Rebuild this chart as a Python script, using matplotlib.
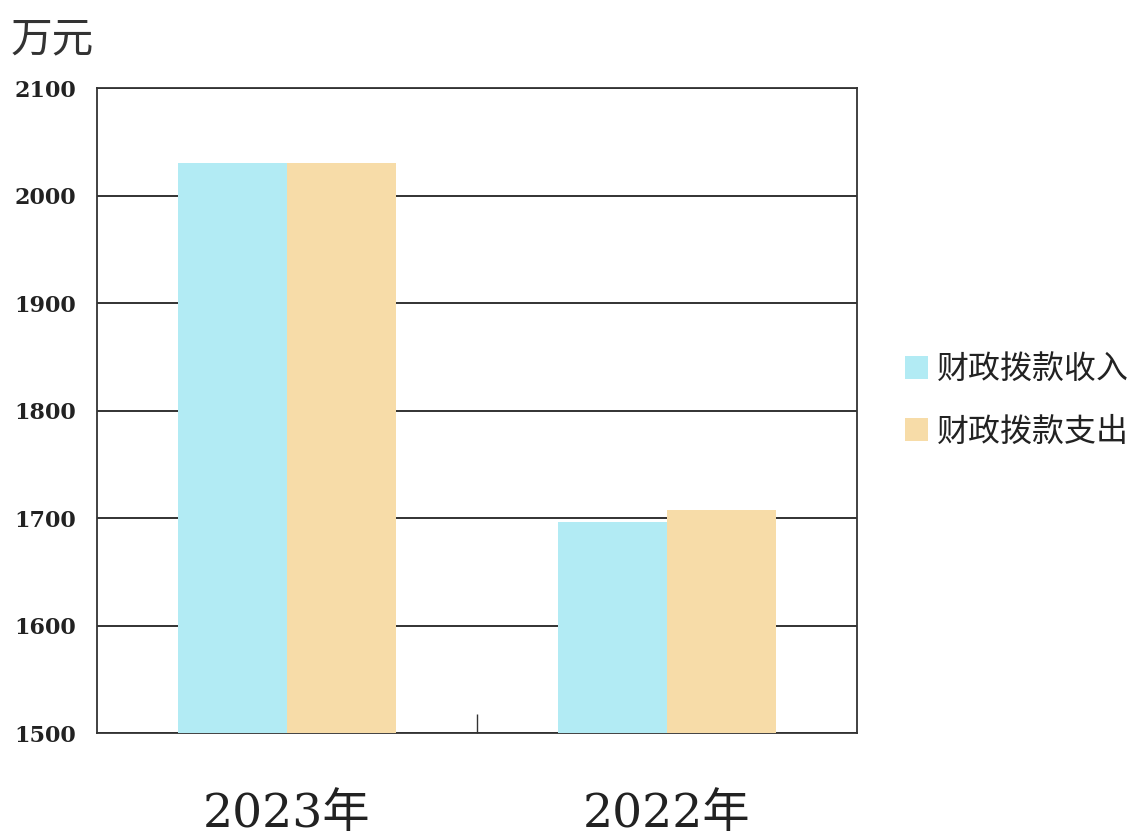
import numpy as np
import matplotlib.pyplot as plt

# data
categories = ['2023年', '2022年']
income = [2030, 1696]
expense = [2030, 1707]
series_names = ['财政拨款收入', '财政拨款支出']
yticks = [1500, 1600, 1700, 1800, 1900, 2000, 2100]

cjk = ['Noto Sans CJK SC', 'DejaVu Sans']
serif = ['DejaVu Serif', 'Noto Sans CJK SC']

fig = plt.figure(figsize=(11.35, 8.36), dpi=100)
ax = fig.add_axes([0.0855, 0.1232, 0.6695, 0.7715])

x = np.arange(len(categories))
w = 0.288
ax.bar(x - w / 2, income, w, color='#b2ebf4', label=series_names[0], zorder=3)
ax.bar(x + w / 2, expense, w, color='#f7dca8', label=series_names[1], zorder=3)

ax.set_xlim(-0.5, 1.5)
ax.set_ylim(1500, 2100)
ax.set_yticks(yticks)
ax.set_yticklabels([str(t) for t in yticks], family=serif, fontsize=16, fontweight='bold',
                   color='#222222')
ax.tick_params(axis='y', length=0, pad=15)
ax.yaxis.grid(True, color='#222222', linewidth=1.3, zorder=1)

ax.set_xticks(x)
ax.set_xticklabels(categories, family=serif, fontsize=34, color='#222222')
ax.tick_params(axis='x', length=0, pad=42)
ax.set_xticks([0.5], minor=True)
ax.tick_params(axis='x', which='minor', direction='in', length=14, width=1, color='#333333')

for s in ax.spines.values():
    s.set_color('#333333')
    s.set_linewidth(1.3)

fig.text(0.009, 0.938, '万元', family=cjk, fontsize=30, color='#333333')

leg = ax.legend(loc='center left', bbox_to_anchor=(1.025, 0.515), frameon=False,
                prop={'family': cjk, 'size': 23}, handlelength=0.72, handleheight=0.72,
                handletextpad=0.3, labelspacing=0.95)
for t in leg.get_texts():
    t.set_color('#222222')

fig.savefig('out.png', dpi=100)
